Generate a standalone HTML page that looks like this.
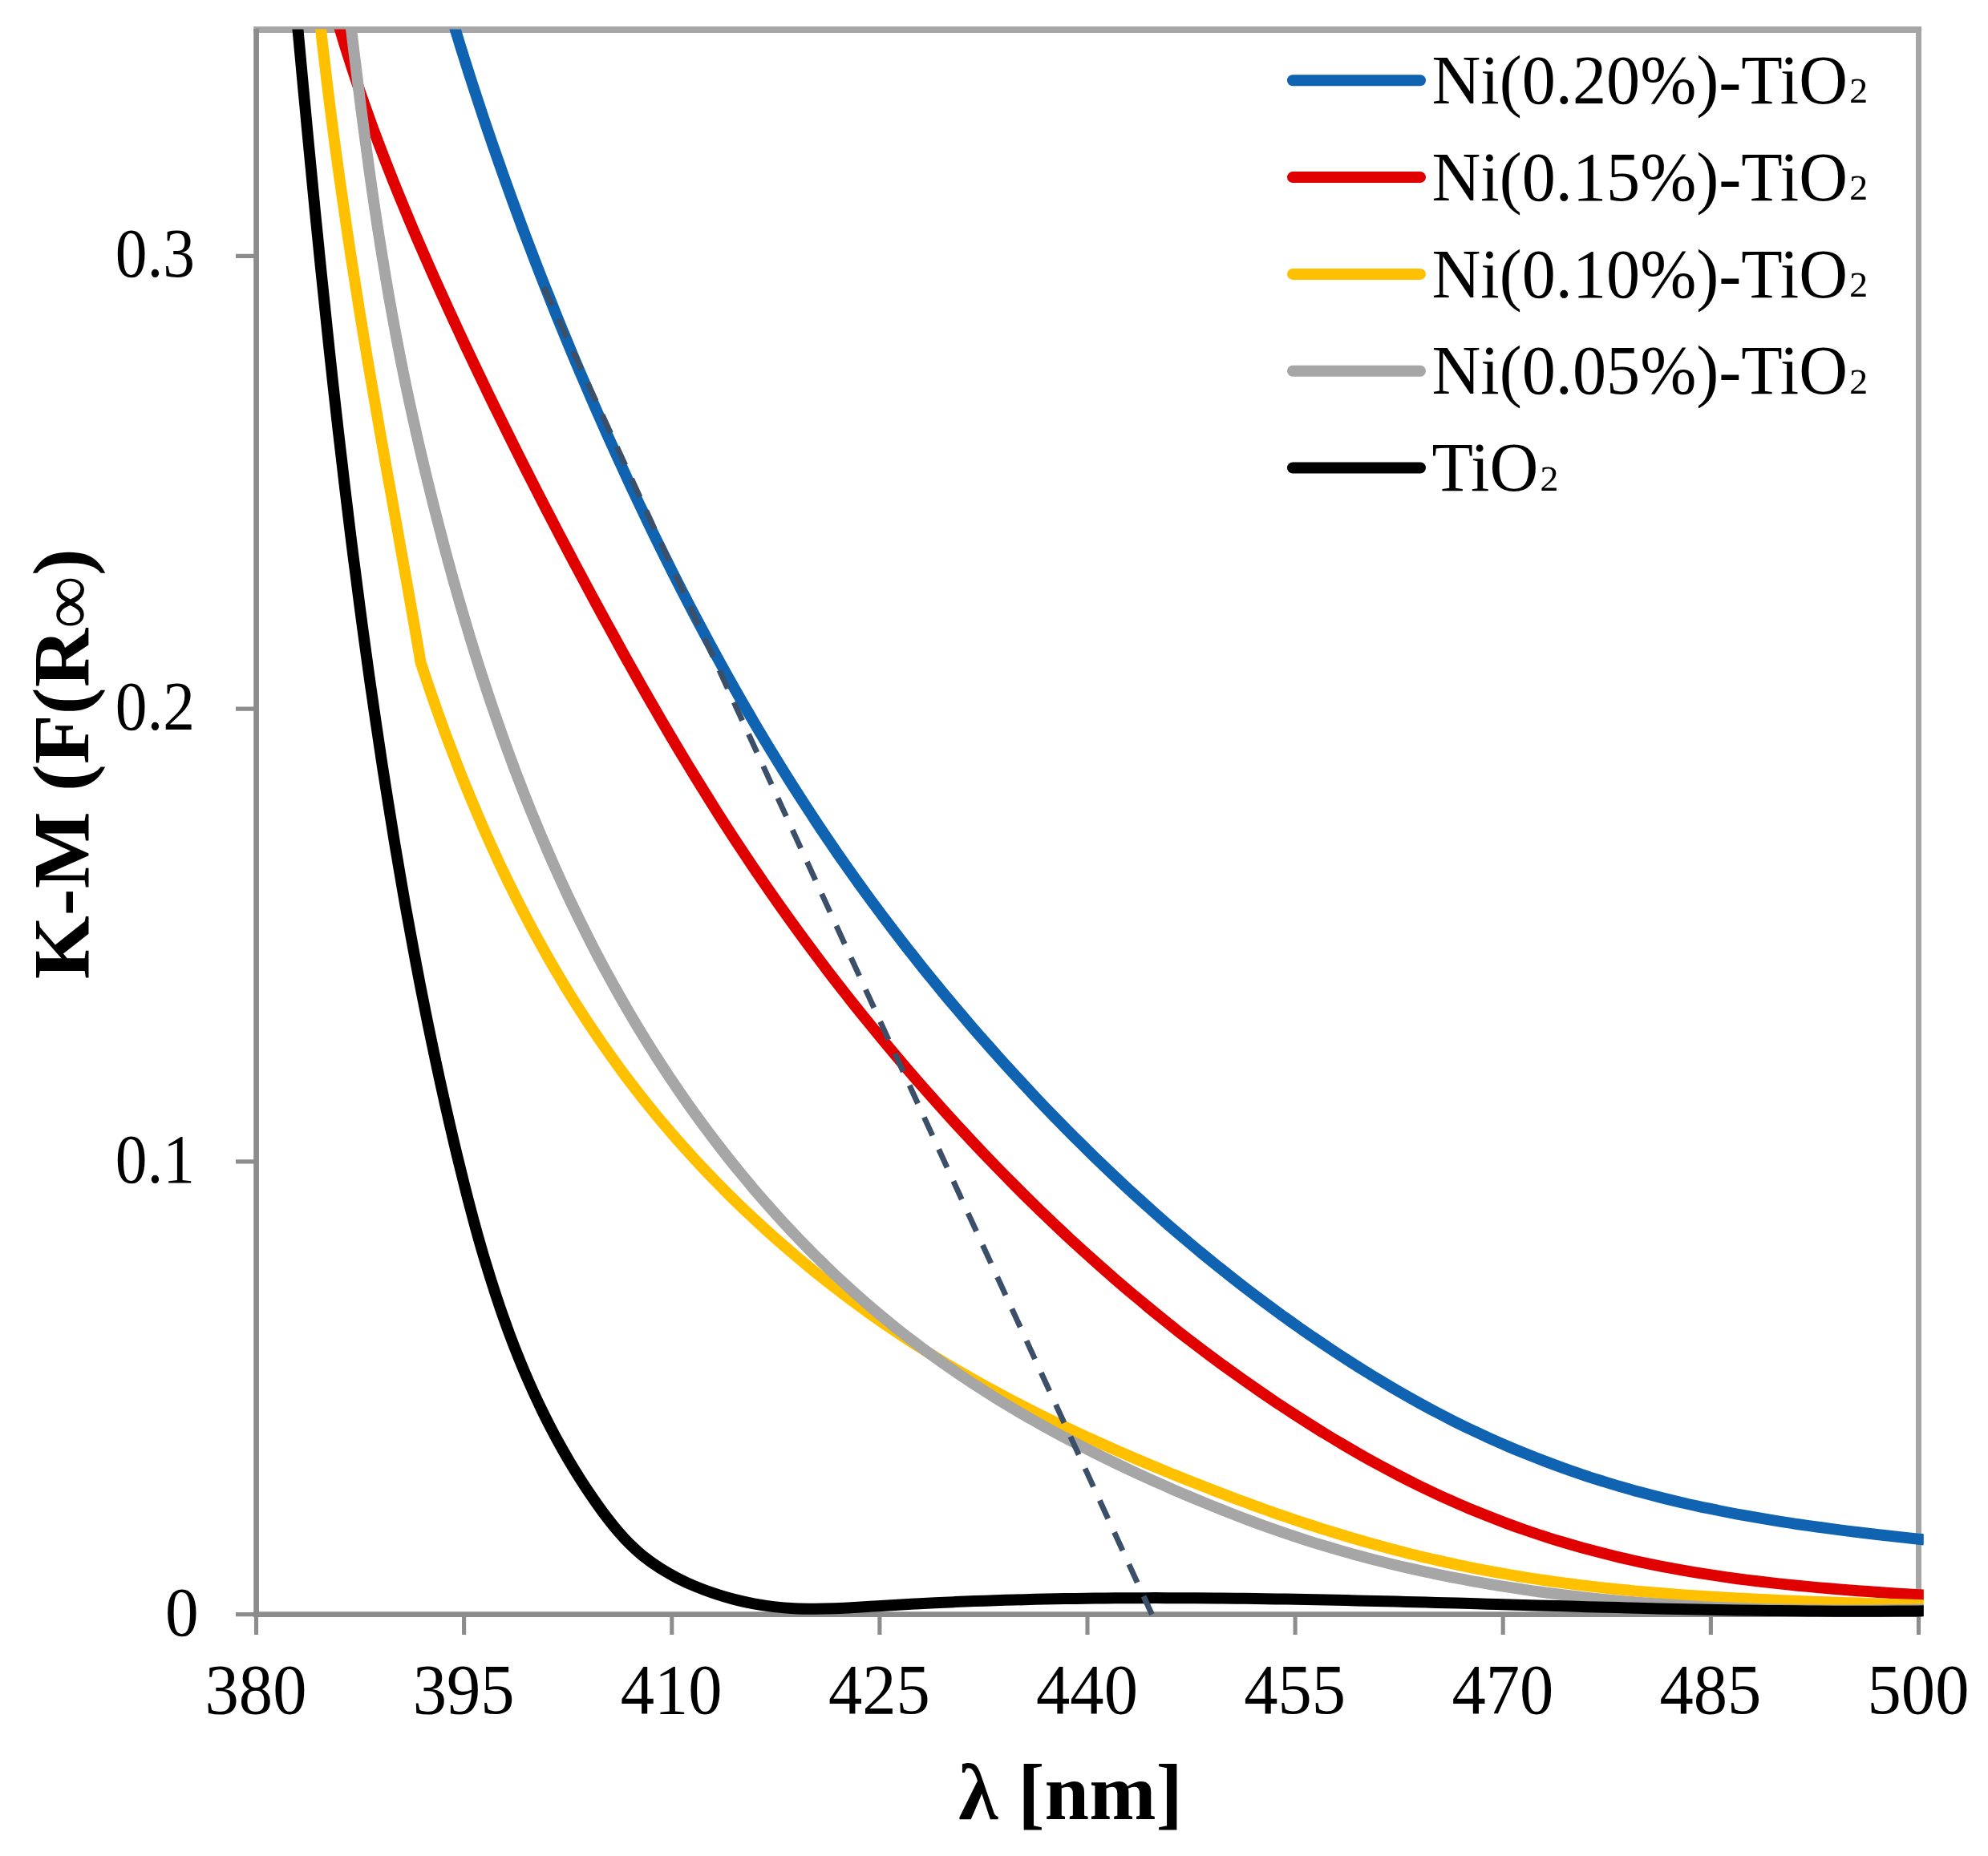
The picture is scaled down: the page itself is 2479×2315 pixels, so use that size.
<!DOCTYPE html>
<html lang="en"><head><meta charset="utf-8"><title>K-M (F(R∞)) vs λ</title>
<style>
html,body{margin:0;padding:0;background:#fff}
svg{display:block}
text{font-family:"Liberation Serif","DejaVu Serif",serif;fill:#000}
.t{font-size:83.3px}
.b{font-size:100px;font-weight:bold}
</style></head><body>
<svg width="2479" height="2315" viewBox="0 0 2479 2315">
<rect width="2479" height="2315" fill="#fff"/>
<defs><clipPath id="c"><rect x="319.5" y="36.5" width="2079.3" height="2100"/></clipPath></defs>
<path d="M316.2 37.0H2396.0" fill="none" stroke="#a6a6a6" stroke-width="8"/>
<path d="M2392.5 34.0V2016.9" fill="none" stroke="#a6a6a6" stroke-width="7"/>
<path d="M319.6 35.8V2016.9" fill="none" stroke="#8c8c8c" stroke-width="6.8"/>
<path d="M316.1 2013.6H2396.0" fill="none" stroke="#8c8c8c" stroke-width="6.6"/>
<path d="M319.5 2013.6V2038.9M578.6 2013.6V2038.9M837.8 2013.6V2038.9M1096.9 2013.6V2038.9M1356.0 2013.6V2038.9M1615.1 2013.6V2038.9M1874.2 2013.6V2038.9M2133.4 2013.6V2038.9M2392.5 2013.6V2038.9M294.0 2013.6H319.5M294.0 1448.9H319.5M294.0 884.1H319.5M294.0 319.4H319.5" fill="none" stroke="#8c8c8c" stroke-width="5.1"/>
<g clip-path="url(#c)" fill="none" stroke-width="14" stroke-linejoin="round" stroke-linecap="square">
<path d="M560.7 13.3C561.9 17.3 565.5 29.2 567.9 37.2C570.3 45.2 572.7 53.1 575.2 61.1C577.7 69.0 580.2 77.0 582.7 84.9C585.2 92.9 587.8 100.8 590.4 108.8C593.0 116.8 595.6 124.7 598.2 132.6C600.8 140.5 603.4 148.5 606.1 156.4C608.8 164.3 611.5 172.3 614.2 180.2C616.9 188.1 619.7 196.0 622.5 203.9C625.3 211.8 628.1 219.8 630.9 227.7C633.7 235.6 636.5 243.4 639.4 251.3C642.3 259.2 645.2 267.1 648.1 275.0C651.0 282.9 653.9 290.7 656.9 298.6C659.9 306.5 662.9 314.4 665.9 322.2C668.9 330.0 671.9 337.9 675.0 345.7C678.1 353.5 681.2 361.4 684.3 369.2C687.4 377.0 690.5 384.9 693.6 392.7C696.8 400.5 700.0 408.3 703.2 416.1C706.4 423.9 709.6 431.6 712.8 439.4C716.0 447.2 719.3 454.9 722.6 462.7C725.9 470.4 729.3 478.2 732.6 485.9C735.9 493.6 739.2 501.4 742.6 509.1C746.0 516.8 749.4 524.5 752.8 532.2C756.2 539.9 759.6 547.5 763.1 555.2C766.6 562.9 770.1 570.6 773.6 578.2C777.1 585.9 780.6 593.5 784.1 601.1C787.6 608.7 791.2 616.3 794.8 623.9C798.4 631.5 802.1 639.1 805.7 646.7C809.3 654.3 812.9 661.8 816.6 669.3C820.3 676.8 824.0 684.4 827.7 691.9C831.4 699.4 835.1 706.9 838.9 714.4C842.7 721.9 846.5 729.3 850.3 736.8C854.1 744.2 857.9 751.7 861.8 759.1C865.7 766.5 869.6 773.9 873.5 781.3C877.4 788.7 881.4 796.1 885.4 803.5C889.4 810.9 893.4 818.2 897.4 825.5C901.4 832.8 905.4 840.1 909.5 847.4C913.6 854.7 917.8 862.0 921.9 869.2C926.0 876.5 930.2 883.7 934.4 890.9C938.6 898.1 942.8 905.4 947.1 912.6C951.4 919.8 955.7 926.9 960.0 934.0C964.3 941.1 968.7 948.3 973.1 955.4C977.5 962.5 981.9 969.6 986.4 976.7C990.9 983.8 995.4 990.8 999.9 997.8C1004.4 1004.8 1009.0 1011.8 1013.6 1018.8C1018.2 1025.8 1022.8 1032.8 1027.5 1039.7C1032.2 1046.7 1036.9 1053.6 1041.6 1060.5C1046.3 1067.4 1051.1 1074.2 1055.9 1081.1C1060.7 1087.9 1065.6 1094.8 1070.5 1101.6C1075.4 1108.4 1080.3 1115.2 1085.3 1122.0C1090.3 1128.8 1095.3 1135.5 1100.3 1142.2C1105.3 1148.9 1110.4 1155.6 1115.5 1162.3C1120.6 1169.0 1125.8 1175.7 1131.0 1182.3C1136.2 1188.9 1141.4 1195.5 1146.6 1202.1C1151.8 1208.7 1157.1 1215.2 1162.4 1221.7C1167.7 1228.2 1173.0 1234.7 1178.4 1241.2C1183.8 1247.7 1189.3 1254.1 1194.7 1260.5C1200.1 1266.9 1205.5 1273.3 1211.0 1279.7C1216.5 1286.1 1222.0 1292.4 1227.6 1298.7C1233.2 1305.0 1238.8 1311.3 1244.4 1317.6C1250.0 1323.9 1255.6 1330.1 1261.3 1336.3C1267.0 1342.5 1272.7 1348.6 1278.4 1354.8C1284.1 1361.0 1289.8 1367.1 1295.6 1373.2C1301.4 1379.3 1307.2 1385.3 1313.1 1391.3C1318.9 1397.3 1324.8 1403.3 1330.7 1409.3C1336.6 1415.3 1342.5 1421.2 1348.5 1427.1C1354.5 1433.0 1360.4 1438.9 1366.4 1444.7C1372.4 1450.5 1378.5 1456.3 1384.6 1462.1C1390.7 1467.9 1396.8 1473.6 1402.9 1479.3C1409.0 1485.0 1415.2 1490.7 1421.4 1496.3C1427.6 1501.9 1433.8 1507.5 1440.1 1513.1C1446.4 1518.7 1452.7 1524.2 1459.0 1529.7C1465.3 1535.2 1471.7 1540.6 1478.1 1546.0C1484.5 1551.4 1490.9 1556.9 1497.4 1562.2C1503.9 1567.5 1510.4 1572.8 1516.9 1578.1C1523.4 1583.3 1530.0 1588.5 1536.6 1593.7C1543.2 1598.9 1549.8 1604.1 1556.5 1609.2C1563.2 1614.3 1569.9 1619.3 1576.6 1624.3C1583.3 1629.3 1590.1 1634.3 1596.9 1639.3C1603.7 1644.2 1610.5 1649.2 1617.4 1654.0C1624.3 1658.8 1631.2 1663.7 1638.2 1668.4C1645.2 1673.2 1652.1 1677.8 1659.1 1682.5C1666.1 1687.2 1673.2 1691.8 1680.3 1696.4C1687.4 1701.0 1694.4 1705.5 1701.6 1709.9C1708.8 1714.4 1716.0 1718.8 1723.2 1723.1C1730.4 1727.4 1737.7 1731.8 1745.0 1736.0C1752.3 1740.2 1759.6 1744.3 1766.9 1748.4C1774.2 1752.5 1781.7 1756.5 1789.1 1760.4C1796.5 1764.3 1803.9 1768.1 1811.4 1771.9C1818.9 1775.7 1826.5 1779.4 1834.0 1783.0C1841.5 1786.6 1849.1 1790.1 1856.7 1793.6C1864.3 1797.0 1871.9 1800.4 1879.6 1803.7C1887.3 1807.0 1895.0 1810.2 1902.7 1813.3C1910.4 1816.4 1918.1 1819.4 1925.9 1822.4C1933.7 1825.4 1941.6 1828.3 1949.4 1831.1C1957.2 1833.9 1965.1 1836.6 1973.0 1839.3C1980.9 1842.0 1988.8 1844.5 1996.8 1847.0C2004.8 1849.5 2012.7 1852.0 2020.7 1854.3C2028.7 1856.6 2036.8 1858.9 2044.9 1861.1C2053.0 1863.3 2061.0 1865.4 2069.1 1867.4C2077.2 1869.5 2085.4 1871.5 2093.6 1873.4C2101.8 1875.3 2109.9 1877.1 2118.1 1878.9C2126.3 1880.7 2134.6 1882.3 2142.8 1884.0C2151.1 1885.7 2159.3 1887.3 2167.6 1888.8C2175.9 1890.3 2184.2 1891.8 2192.5 1893.2C2200.8 1894.6 2209.1 1896.0 2217.4 1897.3C2225.7 1898.6 2234.1 1900.0 2242.4 1901.2C2250.7 1902.4 2259.1 1903.6 2267.4 1904.7C2275.8 1905.8 2284.2 1907.0 2292.5 1908.1C2300.8 1909.2 2309.2 1910.2 2317.5 1911.2C2325.8 1912.2 2334.2 1913.2 2342.6 1914.2C2350.9 1915.2 2359.3 1916.1 2367.6 1917.0C2375.9 1917.9 2388.3 1919.2 2392.5 1919.7" stroke="#1063b1"/>
<path d="M417.2 13.2C418.4 17.2 421.8 29.2 424.1 37.1C426.5 45.1 428.8 53.0 431.3 60.9C433.8 68.8 436.3 76.7 438.9 84.6C441.5 92.5 444.1 100.4 446.8 108.3C449.5 116.2 452.2 124.1 455.0 131.9C457.8 139.8 460.5 147.6 463.4 155.4C466.2 163.2 469.2 171.0 472.1 178.8C475.1 186.6 478.1 194.4 481.1 202.2C484.1 210.0 487.2 217.8 490.3 225.6C493.4 233.4 496.5 241.1 499.7 248.8C502.9 256.5 506.1 264.3 509.3 272.0C512.5 279.7 515.8 287.5 519.1 295.2C522.4 302.9 525.8 310.5 529.1 318.2C532.5 325.9 535.8 333.6 539.2 341.3C542.6 349.0 546.0 356.6 549.5 364.2C553.0 371.8 556.4 379.5 559.9 387.1C563.4 394.7 566.9 402.3 570.4 409.9C573.9 417.5 577.4 425.1 581.0 432.7C584.6 440.3 588.2 447.8 591.8 455.4C595.4 463.0 599.0 470.6 602.6 478.1C606.2 485.7 609.8 493.2 613.5 500.7C617.2 508.2 620.9 515.7 624.6 523.2C628.3 530.7 632.0 538.2 635.7 545.7C639.4 553.2 643.1 560.7 646.9 568.2C650.6 575.7 654.4 583.0 658.2 590.5C662.0 598.0 665.8 605.4 669.6 612.9C673.4 620.4 677.3 627.8 681.1 635.2C684.9 642.6 688.8 650.0 692.6 657.4C696.5 664.8 700.3 672.2 704.2 679.6C708.1 687.0 712.0 694.3 715.9 701.7C719.8 709.1 723.8 716.4 727.7 723.8C731.6 731.1 735.5 738.5 739.5 745.8C743.5 753.1 747.4 760.5 751.4 767.8C755.4 775.1 759.4 782.4 763.4 789.7C767.4 797.0 771.4 804.3 775.4 811.6C779.4 818.9 783.5 826.1 787.6 833.4C791.7 840.6 795.7 847.9 799.8 855.1C803.9 862.3 808.1 869.6 812.2 876.8C816.4 884.0 820.5 891.2 824.7 898.4C828.9 905.6 833.1 912.8 837.3 919.9C841.5 927.0 845.8 934.2 850.1 941.3C854.4 948.4 858.7 955.6 863.0 962.7C867.3 969.8 871.7 976.8 876.1 983.9C880.5 991.0 884.9 998.0 889.3 1005.1C893.7 1012.2 898.2 1019.2 902.7 1026.2C907.2 1033.2 911.7 1040.2 916.3 1047.2C920.9 1054.2 925.5 1061.1 930.1 1068.0C934.7 1074.9 939.4 1081.9 944.1 1088.8C948.8 1095.7 953.5 1102.5 958.2 1109.4C963.0 1116.3 967.8 1123.2 972.6 1130.0C977.4 1136.8 982.3 1143.6 987.2 1150.4C992.1 1157.2 997.0 1164.0 1002.0 1170.7C1007.0 1177.5 1012.0 1184.2 1017.0 1190.9C1022.0 1197.6 1027.0 1204.2 1032.1 1210.9C1037.2 1217.6 1042.3 1224.2 1047.5 1230.8C1052.7 1237.4 1057.8 1244.0 1063.0 1250.6C1068.2 1257.2 1073.4 1263.7 1078.7 1270.2C1084.0 1276.7 1089.3 1283.2 1094.6 1289.7C1099.9 1296.2 1105.3 1302.7 1110.7 1309.1C1116.1 1315.5 1121.5 1321.9 1126.9 1328.3C1132.3 1334.7 1137.8 1341.0 1143.3 1347.3C1148.8 1353.6 1154.4 1359.9 1159.9 1366.2C1165.5 1372.5 1171.0 1378.7 1176.6 1384.9C1182.2 1391.1 1187.8 1397.2 1193.5 1403.4C1199.2 1409.6 1204.8 1415.7 1210.5 1421.8C1216.2 1427.9 1221.9 1434.0 1227.7 1440.0C1233.5 1446.0 1239.3 1452.0 1245.1 1458.0C1250.9 1464.0 1256.7 1469.9 1262.6 1475.8C1268.5 1481.7 1274.4 1487.7 1280.3 1493.5C1286.2 1499.3 1292.1 1505.1 1298.1 1510.9C1304.1 1516.7 1310.2 1522.5 1316.2 1528.2C1322.2 1533.9 1328.3 1539.7 1334.4 1545.3C1340.5 1550.9 1346.6 1556.5 1352.8 1562.1C1359.0 1567.7 1365.2 1573.3 1371.4 1578.8C1377.6 1584.3 1383.8 1589.8 1390.1 1595.3C1396.4 1600.8 1402.7 1606.1 1409.1 1611.5C1415.5 1616.9 1421.9 1622.2 1428.3 1627.5C1434.7 1632.8 1441.1 1638.1 1447.6 1643.3C1454.1 1648.5 1460.5 1653.7 1467.1 1658.9C1473.6 1664.1 1480.3 1669.2 1486.9 1674.3C1493.5 1679.4 1500.1 1684.4 1506.8 1689.4C1513.5 1694.4 1520.2 1699.4 1527.0 1704.3C1533.8 1709.2 1540.6 1714.1 1547.4 1718.9C1554.2 1723.7 1561.0 1728.5 1567.9 1733.3C1574.8 1738.1 1581.7 1742.8 1588.7 1747.5C1595.7 1752.2 1602.8 1756.8 1609.8 1761.4C1616.8 1766.0 1623.9 1770.5 1631.0 1775.0C1638.1 1779.5 1645.2 1784.0 1652.4 1788.4C1659.6 1792.8 1666.8 1797.1 1674.1 1801.4C1681.3 1805.7 1688.6 1809.9 1695.9 1814.1C1703.2 1818.3 1710.6 1822.4 1718.0 1826.4C1725.4 1830.4 1732.8 1834.3 1740.2 1838.2C1747.7 1842.1 1755.2 1846.0 1762.7 1849.7C1770.2 1853.5 1777.8 1857.1 1785.3 1860.7C1792.8 1864.3 1800.4 1867.8 1808.0 1871.2C1815.6 1874.6 1823.3 1878.0 1831.0 1881.2C1838.7 1884.4 1846.4 1887.5 1854.1 1890.6C1861.8 1893.7 1869.6 1896.7 1877.4 1899.6C1885.2 1902.5 1893.0 1905.3 1900.8 1908.0C1908.6 1910.7 1916.4 1913.4 1924.3 1915.9C1932.2 1918.5 1940.1 1920.9 1948.0 1923.3C1955.9 1925.7 1963.9 1928.0 1971.9 1930.2C1979.9 1932.4 1987.8 1934.5 1995.8 1936.6C2003.8 1938.7 2011.8 1940.7 2019.9 1942.6C2028.0 1944.5 2036.1 1946.3 2044.2 1948.1C2052.3 1949.8 2060.4 1951.5 2068.5 1953.1C2076.6 1954.7 2084.7 1956.2 2092.9 1957.7C2101.1 1959.2 2109.3 1960.6 2117.5 1961.9C2125.7 1963.2 2133.9 1964.5 2142.1 1965.7C2150.3 1966.9 2158.6 1968.1 2166.8 1969.2C2175.1 1970.3 2183.3 1971.3 2191.6 1972.3C2199.9 1973.3 2208.2 1974.2 2216.5 1975.1C2224.8 1976.0 2233.2 1976.9 2241.5 1977.7C2249.8 1978.5 2258.2 1979.3 2266.5 1980.1C2274.8 1980.8 2283.2 1981.5 2291.6 1982.2C2300.0 1982.9 2308.4 1983.6 2316.8 1984.2C2325.2 1984.8 2333.6 1985.4 2342.0 1986.0C2350.4 1986.6 2358.8 1987.2 2367.2 1987.7C2375.6 1988.2 2388.3 1989.0 2392.5 1989.2" stroke="#e00000"/>
<path d="M397.4 12.1C397.9 16.4 399.2 29.2 400.2 37.7C401.1 46.2 402.1 54.9 403.1 63.4C404.1 71.9 405.1 80.4 406.1 88.9C407.1 97.4 408.1 106.0 409.2 114.5C410.2 123.0 411.3 131.6 412.4 140.1C413.5 148.6 414.6 157.1 415.7 165.6C416.8 174.1 418.0 182.6 419.1 191.1C420.2 199.6 421.4 208.1 422.6 216.6C423.8 225.1 425.0 233.6 426.2 242.1C427.4 250.6 428.7 259.1 429.9 267.6C431.1 276.1 432.4 284.6 433.6 293.1C434.9 301.6 436.1 310.0 437.4 318.5C438.7 327.0 440.1 335.4 441.4 343.9C442.7 352.4 444.1 360.9 445.4 369.4C446.7 377.9 448.0 386.3 449.4 394.8C450.8 403.3 452.2 411.7 453.6 420.2C455.0 428.7 456.4 437.1 457.8 445.6C459.2 454.1 460.7 462.6 462.1 471.0C463.6 479.4 465.0 487.9 466.5 496.3C468.0 504.8 469.4 513.2 470.9 521.7C472.4 530.2 473.8 538.7 475.3 547.1C476.8 555.5 478.3 564.0 479.8 572.4C481.3 580.8 482.8 589.3 484.3 597.8C485.8 606.2 487.4 614.6 488.9 623.1C490.4 631.6 491.9 640.0 493.4 648.5C494.9 657.0 496.4 665.4 497.9 673.9C499.4 682.4 500.9 690.8 502.4 699.2C503.9 707.7 505.4 716.2 506.9 724.6C508.4 733.0 509.9 741.5 511.4 749.9C512.9 758.3 514.3 766.8 515.8 775.3C517.3 783.8 518.8 792.1 520.2 800.6C521.7 809.1 523.8 821.8 524.5 826.0C525.8 830.0 529.8 842.0 532.5 850.0C535.2 858.0 537.9 865.9 540.7 873.9C543.5 881.9 546.2 889.8 549.1 897.7C552.0 905.6 554.8 913.5 557.8 921.4C560.8 929.3 563.8 937.1 566.8 945.0C569.8 952.9 572.8 960.7 575.9 968.5C579.0 976.3 582.2 984.0 585.4 991.8C588.6 999.5 591.8 1007.3 595.1 1015.0C598.4 1022.7 601.7 1030.3 605.1 1038.0C608.5 1045.7 611.9 1053.3 615.4 1060.9C618.9 1068.5 622.3 1076.0 625.9 1083.6C629.5 1091.1 633.1 1098.7 636.8 1106.2C640.5 1113.7 644.2 1121.1 648.0 1128.5C651.8 1135.9 655.6 1143.3 659.5 1150.7C663.4 1158.1 667.4 1165.4 671.4 1172.7C675.4 1180.0 679.4 1187.3 683.5 1194.5C687.6 1201.7 691.9 1208.8 696.1 1216.0C700.3 1223.2 704.5 1230.3 708.9 1237.4C713.2 1244.5 717.7 1251.5 722.2 1258.5C726.7 1265.5 731.2 1272.5 735.8 1279.4C740.4 1286.3 745.1 1293.2 749.8 1300.1C754.5 1306.9 759.4 1313.7 764.2 1320.5C769.1 1327.3 773.9 1334.0 778.9 1340.7C783.9 1347.4 789.0 1354.0 794.1 1360.6C799.2 1367.2 804.4 1373.8 809.7 1380.3C815.0 1386.8 820.3 1393.3 825.7 1399.7C831.1 1406.1 836.5 1412.5 842.0 1418.8C847.5 1425.1 853.2 1431.4 858.8 1437.6C864.4 1443.8 870.0 1450.0 875.8 1456.1C881.5 1462.2 887.4 1468.3 893.3 1474.3C899.2 1480.3 905.0 1486.3 911.0 1492.2C917.0 1498.1 923.0 1504.0 929.1 1509.8C935.2 1515.6 941.4 1521.3 947.6 1527.0C953.8 1532.7 960.0 1538.4 966.3 1544.0C972.6 1549.6 978.9 1555.0 985.3 1560.5C991.7 1566.0 998.1 1571.4 1004.6 1576.8C1011.1 1582.2 1017.5 1587.5 1024.1 1592.7C1030.7 1597.9 1037.3 1603.1 1044.0 1608.2C1050.7 1613.3 1057.3 1618.4 1064.0 1623.4C1070.7 1628.4 1077.5 1633.3 1084.3 1638.2C1091.1 1643.1 1098.0 1647.9 1104.9 1652.6C1111.8 1657.3 1118.6 1662.0 1125.6 1666.6C1132.5 1671.2 1139.6 1675.7 1146.6 1680.2C1153.6 1684.7 1160.7 1689.1 1167.8 1693.4C1174.9 1697.8 1181.9 1702.1 1189.1 1706.3C1196.2 1710.5 1203.5 1714.7 1210.7 1718.8C1217.9 1722.9 1225.1 1726.9 1232.4 1730.9C1239.7 1734.9 1247.0 1738.8 1254.3 1742.7C1261.6 1746.6 1269.0 1750.5 1276.4 1754.3C1283.8 1758.1 1291.2 1761.8 1298.6 1765.5C1306.0 1769.2 1313.5 1772.8 1321.0 1776.4C1328.5 1780.0 1336.0 1783.6 1343.6 1787.1C1351.1 1790.6 1358.7 1794.1 1366.3 1797.5C1373.9 1800.9 1381.5 1804.3 1389.1 1807.7C1396.7 1811.1 1404.4 1814.4 1412.1 1817.7C1419.8 1821.0 1427.5 1824.3 1435.2 1827.5C1442.9 1830.7 1450.7 1833.9 1458.5 1837.1C1466.3 1840.3 1474.0 1843.5 1481.8 1846.6C1489.6 1849.7 1497.4 1852.8 1505.3 1855.8C1513.2 1858.8 1521.0 1861.9 1528.9 1864.9C1536.8 1867.9 1544.8 1870.9 1552.7 1873.8C1560.6 1876.7 1568.5 1879.7 1576.5 1882.5C1584.5 1885.3 1592.4 1888.2 1600.4 1890.9C1608.4 1893.7 1616.4 1896.3 1624.4 1899.0C1632.4 1901.7 1640.5 1904.2 1648.5 1906.8C1656.5 1909.3 1664.5 1911.8 1672.6 1914.3C1680.7 1916.8 1688.8 1919.2 1696.9 1921.5C1705.0 1923.8 1713.1 1926.1 1721.2 1928.3C1729.3 1930.5 1737.5 1932.7 1745.6 1934.8C1753.7 1936.9 1761.8 1939.0 1770.0 1941.0C1778.2 1943.0 1786.3 1944.9 1794.5 1946.7C1802.7 1948.5 1810.8 1950.4 1819.0 1952.1C1827.2 1953.8 1835.4 1955.5 1843.6 1957.1C1851.8 1958.7 1860.0 1960.2 1868.2 1961.7C1876.4 1963.2 1884.7 1964.7 1892.9 1966.0C1901.1 1967.3 1909.4 1968.6 1917.6 1969.8C1925.8 1971.0 1934.0 1972.3 1942.3 1973.4C1950.5 1974.5 1958.8 1975.6 1967.1 1976.6C1975.4 1977.6 1983.6 1978.7 1991.9 1979.6C2000.2 1980.5 2008.4 1981.4 2016.7 1982.2C2025.0 1983.0 2033.3 1983.8 2041.6 1984.6C2049.9 1985.4 2058.2 1986.1 2066.5 1986.8C2074.8 1987.5 2083.1 1988.2 2091.4 1988.8C2099.7 1989.4 2108.1 1990.0 2116.4 1990.5C2124.7 1991.0 2133.1 1991.6 2141.4 1992.1C2149.7 1992.6 2158.1 1993.1 2166.4 1993.5C2174.7 1993.9 2183.1 1994.3 2191.4 1994.7C2199.8 1995.1 2208.1 1995.5 2216.5 1995.9C2224.9 1996.3 2233.2 1996.6 2241.6 1996.9C2250.0 1997.2 2258.3 1997.6 2266.7 1997.9C2275.1 1998.2 2283.4 1998.5 2291.8 1998.8C2300.2 1999.1 2308.5 1999.3 2316.9 1999.6C2325.3 1999.9 2333.7 2000.1 2342.1 2000.4C2350.5 2000.7 2358.9 2000.9 2367.3 2001.2C2375.7 2001.5 2388.3 2001.9 2392.5 2002.0" stroke="#ffc000"/>
<path d="M435.1 12.0C435.6 16.2 437.1 28.7 438.1 37.0C439.1 45.3 440.1 53.7 441.1 62.0C442.1 70.3 443.2 78.6 444.2 86.9C445.2 95.2 446.3 103.5 447.3 111.8C448.3 120.1 449.3 128.3 450.4 136.6C451.5 144.9 452.6 153.2 453.7 161.5C454.8 169.8 455.9 178.1 457.0 186.3C458.1 194.6 459.2 202.8 460.3 211.0C461.4 219.2 462.6 227.6 463.8 235.8C465.0 244.1 466.2 252.3 467.4 260.5C468.6 268.7 469.8 276.9 471.1 285.1C472.4 293.3 473.7 301.6 475.0 309.8C476.3 318.0 477.6 326.2 479.0 334.4C480.4 342.6 481.7 350.8 483.1 359.0C484.5 367.2 485.9 375.3 487.4 383.5C488.9 391.7 490.4 399.9 491.9 408.1C493.4 416.3 494.9 424.4 496.5 432.6C498.1 440.8 499.7 449.0 501.3 457.1C502.9 465.2 504.6 473.4 506.3 481.5C508.0 489.6 509.7 497.8 511.5 505.9C513.3 514.0 515.1 522.2 516.9 530.3C518.7 538.4 520.5 546.6 522.4 554.7C524.3 562.8 526.2 571.0 528.1 579.1C530.0 587.2 532.0 595.3 534.0 603.4C536.0 611.5 538.0 619.6 540.0 627.7C542.0 635.8 544.1 643.9 546.2 652.0C548.3 660.1 550.4 668.1 552.5 676.2C554.6 684.3 556.8 692.4 559.0 700.5C561.2 708.6 563.4 716.6 565.6 724.6C567.9 732.6 570.2 740.8 572.5 748.8C574.8 756.8 577.1 764.8 579.5 772.8C581.9 780.8 584.3 788.9 586.7 796.9C589.1 804.9 591.6 812.8 594.1 820.8C596.6 828.8 599.1 836.8 601.7 844.7C604.3 852.7 606.9 860.6 609.5 868.5C612.1 876.4 614.9 884.3 617.6 892.2C620.3 900.1 623.0 908.0 625.8 915.9C628.6 923.8 631.4 931.6 634.3 939.4C637.2 947.2 640.0 955.1 643.0 962.9C646.0 970.7 649.0 978.4 652.0 986.2C655.0 994.0 658.1 1001.8 661.2 1009.5C664.3 1017.2 667.5 1024.9 670.7 1032.6C673.9 1040.3 677.1 1047.9 680.4 1055.6C683.7 1063.2 687.0 1070.9 690.4 1078.5C693.8 1086.1 697.2 1093.7 700.7 1101.3C704.2 1108.9 707.6 1116.4 711.2 1123.9C714.8 1131.4 718.4 1138.9 722.1 1146.4C725.8 1153.9 729.5 1161.3 733.2 1168.7C737.0 1176.1 740.7 1183.5 744.6 1190.9C748.5 1198.3 752.4 1205.7 756.4 1213.0C760.4 1220.3 764.3 1227.5 768.4 1234.8C772.5 1242.0 776.6 1249.3 780.8 1256.5C785.0 1263.7 789.2 1270.9 793.5 1278.1C797.8 1285.2 802.1 1292.3 806.5 1299.4C810.9 1306.5 815.4 1313.6 819.9 1320.6C824.4 1327.6 829.0 1334.6 833.6 1341.6C838.2 1348.5 842.9 1355.4 847.6 1362.3C852.3 1369.2 857.1 1376.1 862.0 1382.9C866.9 1389.7 871.8 1396.5 876.8 1403.2C881.8 1409.9 886.7 1416.7 891.8 1423.3C896.9 1429.9 902.0 1436.5 907.2 1443.1C912.4 1449.7 917.7 1456.2 923.0 1462.7C928.3 1469.2 933.6 1475.5 939.0 1481.9C944.4 1488.3 949.9 1494.6 955.4 1500.9C960.9 1507.2 966.5 1513.4 972.1 1519.6C977.7 1525.8 983.5 1531.9 989.2 1538.0C994.9 1544.1 1000.7 1550.1 1006.5 1556.0C1012.3 1561.9 1018.2 1567.8 1024.2 1573.6C1030.2 1579.4 1036.1 1585.3 1042.2 1591.0C1048.3 1596.7 1054.4 1602.3 1060.6 1607.9C1066.8 1613.5 1072.9 1619.0 1079.2 1624.5C1085.5 1630.0 1091.8 1635.3 1098.2 1640.6C1104.6 1645.9 1110.9 1651.2 1117.4 1656.4C1123.9 1661.6 1130.4 1666.7 1137.0 1671.7C1143.6 1676.8 1150.2 1681.8 1156.9 1686.7C1163.6 1691.6 1170.3 1696.3 1177.1 1701.1C1183.9 1705.8 1190.6 1710.6 1197.5 1715.2C1204.4 1719.8 1211.3 1724.4 1218.3 1728.9C1225.3 1733.4 1232.3 1737.9 1239.3 1742.3C1246.3 1746.7 1253.4 1751.0 1260.5 1755.2C1267.6 1759.5 1274.8 1763.7 1282.0 1767.8C1289.2 1771.9 1296.5 1776.1 1303.8 1780.1C1311.1 1784.1 1318.3 1788.1 1325.7 1792.0C1333.1 1795.9 1340.5 1799.8 1347.9 1803.6C1355.3 1807.4 1362.8 1811.2 1370.3 1814.9C1377.8 1818.6 1385.3 1822.3 1392.8 1825.9C1400.3 1829.5 1407.9 1833.1 1415.5 1836.6C1423.1 1840.1 1430.7 1843.6 1438.4 1847.1C1446.1 1850.5 1453.8 1853.9 1461.5 1857.3C1469.2 1860.7 1476.9 1863.9 1484.7 1867.2C1492.5 1870.5 1500.3 1873.7 1508.1 1876.9C1515.9 1880.1 1523.7 1883.2 1531.5 1886.3C1539.3 1889.4 1547.2 1892.4 1555.1 1895.4C1563.0 1898.4 1570.9 1901.3 1578.8 1904.1C1586.7 1906.9 1594.7 1909.7 1602.6 1912.4C1610.5 1915.1 1618.4 1917.7 1626.4 1920.3C1634.4 1922.9 1642.4 1925.4 1650.4 1927.8C1658.4 1930.2 1666.4 1932.6 1674.4 1934.9C1682.4 1937.2 1690.5 1939.3 1698.5 1941.5C1706.5 1943.7 1714.6 1945.8 1722.7 1947.8C1730.8 1949.8 1738.8 1951.8 1746.9 1953.7C1755.0 1955.6 1763.2 1957.4 1771.3 1959.2C1779.4 1961.0 1787.5 1962.7 1795.6 1964.4C1803.7 1966.1 1811.9 1967.7 1820.1 1969.2C1828.3 1970.8 1836.4 1972.2 1844.6 1973.7C1852.8 1975.2 1860.9 1976.6 1869.1 1977.9C1877.3 1979.2 1885.5 1980.5 1893.7 1981.7C1901.9 1982.9 1910.2 1984.2 1918.4 1985.3C1926.6 1986.4 1934.9 1987.5 1943.1 1988.5C1951.3 1989.5 1959.5 1990.5 1967.8 1991.5C1976.0 1992.5 1984.3 1993.4 1992.6 1994.2C2000.9 1995.0 2009.2 1995.8 2017.5 1996.6C2025.8 1997.3 2034.0 1998.0 2042.3 1998.7C2050.6 1999.4 2058.9 2000.0 2067.2 2000.6C2075.5 2001.2 2083.8 2001.8 2092.1 2002.3C2100.4 2002.8 2108.8 2003.3 2117.1 2003.8C2125.4 2004.2 2133.8 2004.6 2142.1 2005.0C2150.4 2005.4 2158.8 2005.7 2167.1 2006.0C2175.4 2006.3 2183.8 2006.7 2192.1 2006.9C2200.4 2007.2 2208.8 2007.3 2217.1 2007.5C2225.4 2007.7 2233.8 2007.9 2242.2 2008.0C2250.5 2008.1 2258.8 2008.2 2267.2 2008.3C2275.5 2008.4 2284.0 2008.5 2292.3 2008.5C2300.7 2008.5 2309.0 2008.5 2317.3 2008.5C2325.7 2008.5 2334.0 2008.4 2342.4 2008.3C2350.8 2008.2 2359.2 2008.2 2367.5 2008.1C2375.8 2008.0 2388.3 2007.8 2392.5 2007.7" stroke="#a6a6a6"/>
<path d="M369.2 12.1C369.6 16.3 370.7 28.8 371.5 37.1C372.3 45.4 373.0 53.7 373.8 62.0C374.6 70.3 375.3 78.6 376.1 86.9C376.9 95.2 377.6 103.5 378.4 111.8C379.2 120.1 380.0 128.4 380.8 136.7C381.6 145.0 382.3 153.4 383.1 161.7C383.9 170.0 384.7 178.3 385.5 186.6C386.3 194.9 387.1 203.2 387.9 211.5C388.7 219.8 389.5 228.2 390.3 236.5C391.1 244.8 391.9 253.1 392.7 261.4C393.5 269.7 394.4 278.0 395.2 286.3C396.0 294.6 396.9 303.0 397.7 311.3C398.5 319.6 399.3 327.9 400.2 336.2C401.1 344.5 401.9 352.8 402.8 361.1C403.7 369.4 404.5 377.7 405.4 386.0C406.3 394.3 407.1 402.7 408.0 411.0C408.9 419.3 409.7 427.6 410.6 435.9C411.5 444.2 412.4 452.5 413.3 460.8C414.2 469.1 415.1 477.4 416.0 485.7C416.9 494.0 417.9 502.4 418.8 510.7C419.7 519.0 420.7 527.3 421.6 535.6C422.6 543.9 423.5 552.2 424.5 560.5C425.5 568.8 426.4 577.1 427.4 585.4C428.4 593.7 429.3 602.0 430.3 610.3C431.3 618.6 432.3 626.8 433.3 635.1C434.3 643.4 435.3 651.7 436.3 660.0C437.3 668.3 438.3 676.6 439.4 684.9C440.4 693.2 441.5 701.4 442.6 709.7C443.7 718.0 444.7 726.3 445.8 734.6C446.9 742.9 447.9 751.1 449.0 759.4C450.1 767.7 451.2 776.0 452.3 784.3C453.4 792.6 454.6 800.8 455.7 809.1C456.8 817.4 458.0 825.6 459.1 833.9C460.2 842.2 461.4 850.4 462.6 858.7C463.8 867.0 465.0 875.2 466.2 883.5C467.4 891.8 468.6 900.0 469.8 908.2C471.0 916.5 472.3 924.8 473.5 933.0C474.7 941.2 475.9 949.5 477.2 957.7C478.5 966.0 479.8 974.2 481.1 982.5C482.4 990.8 483.7 999.0 485.0 1007.2C486.3 1015.4 487.7 1023.7 489.0 1031.9C490.3 1040.1 491.6 1048.4 493.0 1056.6C494.4 1064.8 495.8 1073.1 497.2 1081.3C498.6 1089.5 500.0 1097.7 501.4 1105.9C502.8 1114.1 504.2 1122.4 505.7 1130.6C507.2 1138.8 508.7 1147.0 510.2 1155.2C511.7 1163.4 513.2 1171.6 514.7 1179.8C516.2 1188.0 517.8 1196.2 519.3 1204.4C520.8 1212.6 522.4 1220.8 524.0 1229.0C525.6 1237.2 527.3 1245.4 528.9 1253.6C530.5 1261.8 532.1 1269.9 533.8 1278.1C535.5 1286.3 537.2 1294.4 538.9 1302.6C540.6 1310.8 542.4 1319.0 544.1 1327.2C545.9 1335.4 547.6 1343.6 549.4 1351.7C551.2 1359.8 553.0 1367.9 554.8 1376.1C556.6 1384.2 558.5 1392.4 560.4 1400.6C562.3 1408.8 564.2 1416.9 566.1 1425.1C568.0 1433.2 570.0 1441.4 572.0 1449.5C574.0 1457.6 576.0 1465.8 578.0 1473.9C580.0 1482.0 582.1 1490.1 584.2 1498.2C586.3 1506.3 588.4 1514.4 590.6 1522.5C592.8 1530.6 595.0 1538.7 597.3 1546.7C599.6 1554.8 601.9 1562.8 604.3 1570.8C606.7 1578.8 609.2 1586.8 611.7 1594.8C614.2 1602.8 616.8 1610.7 619.4 1618.6C622.0 1626.5 624.7 1634.4 627.5 1642.3C630.3 1650.2 633.1 1658.0 636.0 1665.8C638.9 1673.6 641.9 1681.4 645.0 1689.1C648.1 1696.8 651.2 1704.5 654.5 1712.2C657.8 1719.9 661.1 1727.4 664.5 1735.0C667.9 1742.6 671.5 1750.1 675.1 1757.6C678.7 1765.1 682.5 1772.6 686.3 1780.0C690.1 1787.4 694.0 1794.7 698.1 1802.0C702.2 1809.3 706.3 1816.6 710.6 1823.8C714.9 1831.0 719.3 1838.1 723.8 1845.2C728.3 1852.3 732.9 1859.3 737.7 1866.3C742.5 1873.3 747.3 1880.2 752.4 1887.0C757.5 1893.8 762.7 1900.5 768.1 1906.9C773.5 1913.3 779.1 1919.6 785.0 1925.4C790.9 1931.2 797.0 1936.9 803.4 1942.0C809.8 1947.1 816.5 1951.8 823.4 1956.2C830.3 1960.6 837.5 1964.6 844.9 1968.4C852.2 1972.2 859.8 1975.7 867.5 1978.9C875.2 1982.1 883.1 1985.0 891.1 1987.7C899.1 1990.4 907.1 1992.8 915.3 1994.9C923.5 1997.0 931.8 1998.8 940.1 2000.3C948.4 2001.8 956.8 2003.1 965.2 2004.1C973.6 2005.1 981.9 2005.8 990.3 2006.2C998.7 2006.6 1007.0 2006.7 1015.4 2006.7C1023.8 2006.7 1032.2 2006.5 1040.5 2006.2C1048.8 2005.9 1057.2 2005.5 1065.5 2005.0C1073.8 2004.5 1082.2 2003.9 1090.6 2003.4C1098.9 2002.9 1107.3 2002.4 1115.6 2001.9C1123.9 2001.4 1132.3 2001.0 1140.6 2000.5C1148.9 2000.0 1157.2 1999.6 1165.6 1999.2C1173.9 1998.8 1182.3 1998.4 1190.7 1998.1C1199.1 1997.8 1207.4 1997.4 1215.7 1997.1C1224.0 1996.8 1232.4 1996.5 1240.7 1996.2C1249.0 1995.9 1257.4 1995.7 1265.7 1995.5C1274.0 1995.3 1282.4 1995.0 1290.7 1994.8C1299.0 1994.6 1307.4 1994.4 1315.7 1994.3C1324.0 1994.2 1332.4 1994.0 1340.7 1993.9C1349.0 1993.8 1357.4 1993.7 1365.7 1993.6C1374.0 1993.5 1382.4 1993.4 1390.7 1993.3C1399.0 1993.2 1407.4 1993.2 1415.7 1993.2C1424.0 1993.2 1432.4 1993.1 1440.7 1993.1C1449.0 1993.1 1457.5 1993.2 1465.8 1993.2C1474.1 1993.2 1482.5 1993.2 1490.8 1993.3C1499.1 1993.3 1507.4 1993.4 1515.8 1993.5C1524.2 1993.6 1532.6 1993.6 1540.9 1993.7C1549.2 1993.8 1557.6 1993.9 1565.9 1994.0C1574.2 1994.1 1582.6 1994.3 1590.9 1994.4C1599.2 1994.5 1607.7 1994.7 1616.0 1994.8C1624.3 1994.9 1632.7 1995.1 1641.0 1995.3C1649.3 1995.5 1657.8 1995.6 1666.1 1995.8C1674.4 1996.0 1682.8 1996.2 1691.1 1996.4C1699.4 1996.6 1707.8 1996.8 1716.2 1997.0C1724.6 1997.2 1732.9 1997.4 1741.2 1997.6C1749.5 1997.8 1758.0 1998.0 1766.3 1998.2C1774.6 1998.4 1782.9 1998.7 1791.3 1998.9C1799.7 1999.1 1808.0 1999.4 1816.4 1999.6C1824.8 1999.8 1833.2 2000.1 1841.5 2000.3C1849.8 2000.5 1858.2 2000.8 1866.5 2001.0C1874.8 2001.2 1883.2 2001.5 1891.6 2001.7C1899.9 2001.9 1908.2 2002.2 1916.6 2002.4C1924.9 2002.6 1933.3 2002.9 1941.7 2003.1C1950.1 2003.3 1958.4 2003.6 1966.7 2003.8C1975.0 2004.0 1983.5 2004.3 1991.8 2004.5C2000.1 2004.7 2008.4 2004.9 2016.8 2005.1C2025.2 2005.3 2033.5 2005.6 2041.9 2005.8C2050.3 2006.0 2058.7 2006.2 2067.0 2006.4C2075.3 2006.6 2083.7 2006.7 2092.0 2006.9C2100.3 2007.1 2108.8 2007.3 2117.1 2007.5C2125.4 2007.7 2133.8 2007.8 2142.1 2007.9C2150.4 2008.1 2158.8 2008.2 2167.2 2008.4C2175.5 2008.6 2183.8 2008.7 2192.2 2008.8C2200.5 2008.9 2209.0 2009.0 2217.3 2009.1C2225.7 2009.2 2234.0 2009.2 2242.3 2009.3C2250.6 2009.4 2259.0 2009.4 2267.3 2009.5C2275.7 2009.6 2284.1 2009.7 2292.4 2009.7C2300.8 2009.7 2309.1 2009.7 2317.4 2009.7C2325.7 2009.7 2334.1 2009.7 2342.4 2009.7C2350.8 2009.7 2359.2 2009.6 2367.5 2009.6C2375.8 2009.5 2388.3 2009.4 2392.5 2009.4" stroke="#000000"/>
</g>
<line x1="678.1" y1="358.3" x2="1436.8" y2="2014.5" stroke="#3b5068" stroke-width="7" stroke-dasharray="25 18.8"/>
<text class="t" transform="translate(319.0 2137.4) scale(1.015 1.060)" text-anchor="middle">380</text>
<text class="t" transform="translate(578.1 2137.4) scale(1.015 1.060)" text-anchor="middle">395</text>
<text class="t" transform="translate(837.2 2137.4) scale(1.015 1.060)" text-anchor="middle">410</text>
<text class="t" transform="translate(1096.4 2137.4) scale(1.015 1.060)" text-anchor="middle">425</text>
<text class="t" transform="translate(1355.5 2137.4) scale(1.015 1.060)" text-anchor="middle">440</text>
<text class="t" transform="translate(1614.6 2137.4) scale(1.015 1.060)" text-anchor="middle">455</text>
<text class="t" transform="translate(1873.8 2137.4) scale(1.015 1.060)" text-anchor="middle">470</text>
<text class="t" transform="translate(2132.9 2137.4) scale(1.015 1.060)" text-anchor="middle">485</text>
<text class="t" transform="translate(2392.0 2137.4) scale(1.015 1.060)" text-anchor="middle">500</text>
<text class="t" transform="translate(226.7 2039.5) scale(1.000 1.040)" text-anchor="middle">0</text>
<text class="t" transform="translate(193.4 1474.8) scale(0.955 1.040)" text-anchor="middle">0.1</text>
<text class="t" transform="translate(193.4 910.0) scale(0.955 1.040)" text-anchor="middle">0.2</text>
<text class="t" transform="translate(193.4 345.3) scale(0.955 1.040)" text-anchor="middle">0.3</text>
<text class="b" transform="translate(1335.0 2268.5) scale(1.000 1.000)" text-anchor="middle">λ [nm]</text>
<text class="b" transform="translate(109.7 952.7) rotate(-90) scale(1.016 1)" text-anchor="middle">K-M (F(R<tspan font-weight="normal" font-size="91" dy="4">∞</tspan><tspan dy="-4">)</tspan></text>
<line x1="1612" y1="100.3" x2="1771" y2="100.3" stroke="#1063b1" stroke-width="14" stroke-linecap="round"/>
<text class="t" transform="translate(1785.5 128.9) scale(1.011 1.035)" text-anchor="start">Ni(0.20%)-TiO<tspan dy="-15" font-size="76">₂</tspan></text>
<line x1="1612" y1="221.1" x2="1771" y2="221.1" stroke="#e00000" stroke-width="14" stroke-linecap="round"/>
<text class="t" transform="translate(1785.5 249.7) scale(1.011 1.035)" text-anchor="start">Ni(0.15%)-TiO<tspan dy="-15" font-size="76">₂</tspan></text>
<line x1="1612" y1="341.9" x2="1771" y2="341.9" stroke="#ffc000" stroke-width="14" stroke-linecap="round"/>
<text class="t" transform="translate(1785.5 370.5) scale(1.011 1.035)" text-anchor="start">Ni(0.10%)-TiO<tspan dy="-15" font-size="76">₂</tspan></text>
<line x1="1612" y1="462.7" x2="1771" y2="462.7" stroke="#a6a6a6" stroke-width="14" stroke-linecap="round"/>
<text class="t" transform="translate(1785.5 491.3) scale(1.011 1.035)" text-anchor="start">Ni(0.05%)-TiO<tspan dy="-15" font-size="76">₂</tspan></text>
<line x1="1612" y1="583.5" x2="1771" y2="583.5" stroke="#000000" stroke-width="14" stroke-linecap="round"/>
<text class="t" transform="translate(1785.5 612.1) scale(1.011 1.035)" text-anchor="start">TiO<tspan dy="-15" font-size="76">₂</tspan></text>
</svg></body></html>
